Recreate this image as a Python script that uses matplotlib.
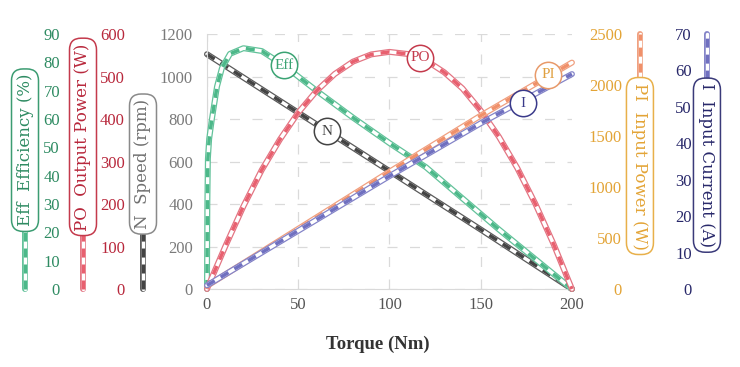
import numpy as np
import matplotlib
matplotlib.use("Agg")
import matplotlib.pyplot as plt
from matplotlib.transforms import blended_transform_factory

plt.rcParams['font.family'] = ['Liberation Serif', 'DejaVu Serif']

# data
torque_eff = [0, 0.2, 0.5, 1.2, 2.7, 5.5, 8.2, 12.6, 20, 30, 42, 60, 80, 100, 120, 140, 160, 180, 200]
efficiency = [0, 30, 46, 53, 60, 71.5, 78, 83, 85, 84, 79, 70, 60.5, 51.5, 43, 32, 21, 10.5, 0]

torque_po = [0, 10, 20, 30, 40, 50, 60, 70, 80, 90, 100, 110, 120, 130, 140, 150, 160, 170, 180, 190, 200]
output_power = [0, 100, 195, 280, 352, 415, 466, 506, 535, 552, 558, 553, 538, 510, 472, 420, 358, 285, 200, 105, 0]

torque_n = [0, 50, 100, 150, 200]
speed = [1105, 830, 555, 280, 0]

torque_pi = [0, 50, 100, 150, 200]
input_power = [30, 590, 1150, 1700, 2220]

torque_i = [0, 50, 100, 150, 200]
input_current = [1, 16, 31, 45.5, 59]

x_ticks = [0, 50, 100, 150, 200]
eff_ticks = [0, 10, 20, 30, 40, 50, 60, 70, 80, 90]
po_ticks = [0, 100, 200, 300, 400, 500, 600]
n_ticks = [0, 200, 400, 600, 800, 1000, 1200]
pi_ticks = [0, 500, 1000, 1500, 2000, 2500]
i_ticks = [0, 10, 20, 30, 40, 50, 60, 70]


def tube(axis, x, y, edge, dash, lw=4.3, transform=None):
    kw = dict(clip_on=False)
    if transform is not None:
        kw['transform'] = transform
    axis.plot(x, y, color=edge, lw=lw, solid_capstyle='round', solid_joinstyle='round', zorder=2, **kw)
    axis.plot(x, y, color='white', lw=lw - 1.8, solid_capstyle='round', solid_joinstyle='round', zorder=2, **kw)
    axis.plot(x, y, color=dash, lw=lw - 1.8, dashes=(2.6, 2.0), dash_capstyle='butt', zorder=2, **kw)


def side_axis(lim, ticks, color, spine_x):
    # extra value axis sharing the torque axis; tick labels right-aligned at spine_x
    t = ax.twinx()
    t.set_ylim(*lim)
    t.set_yticks([])
    for s in t.spines.values():
        s.set_visible(False)
    tr = blended_transform_factory(t.transAxes, t.transData)
    for v in ticks:
        t.text(spine_x, v, str(v), transform=tr, ha='right', va='center_baseline',
               fontsize=12, color=color, clip_on=False)
    return t


fig = plt.figure(figsize=(7.4, 3.67), dpi=100)
ax = fig.add_axes([0.2797, 0.2125, 0.4932, 0.6948])
ax.set_xlim(0, 200)
ax.set_ylim(0, 1200)
ax.set_xticks(x_ticks)
ax.set_yticks(n_ticks)
ax.grid(True, color='#dadada', lw=0.9, linestyle=(0, (8, 10)))
ax.xaxis.get_gridlines()[-1].set_visible(False)
for side in ['top', 'right']:
    ax.spines[side].set_visible(False)
for side in ['left', 'bottom']:
    ax.spines[side].set_color('#d9d9d9')
ax.tick_params(axis='y', length=0, pad=10, labelsize=12, labelcolor='#7a7a7a')
ax.tick_params(axis='x', length=0, pad=6, labelsize=12, labelcolor='#555555')
ax.set_xlabel('Torque (Nm)', fontsize=13.5, fontweight='bold', color='#333333')
ax.xaxis.set_label_coords(0.467, -0.185)

# speed on the main axis
tube(ax, torque_n, speed, '#5a5a5a', '#444444')

ax_eff = side_axis((0, 90), eff_ticks, '#2e8b62', -0.4027)
ax_po = side_axis((0, 600), po_ticks, '#b8283c', -0.2247)
ax_pi = side_axis((0, 2500), pi_ticks, '#e3a436', 1.137)
ax_i = side_axis((0, 70), i_ticks, '#28286a', 1.3288)

tube(ax_pi, torque_pi, input_power, '#f0a080', '#f0906a')
tube(ax_i, torque_i, input_current, '#8484c8', '#7070c0')
tube(ax_po, torque_po, output_power, '#e37583', '#e8606f')
tube(ax_eff, torque_eff, efficiency, '#62c29a', '#4cb889')

# axis "spine" tubes and boxed titles
axis_info = [
    (ax_eff, -0.4986, (0, 40), 49, 'Eff  Efficiency (%)', '#3c9c72', '#2e8b62', '#62c29a', '#4cb889', 90),
    (ax_po, -0.3397, (0, 300), 358, 'PO  Output Power (W)', '#c43a4c', '#b8283c', '#e37583', '#e8606f', 90),
    (ax, -0.1753, (0, 500), 588, 'N  Speed (rpm)', '#8a8a8a', '#707070', '#5a5a5a', '#444444', 90),
    (ax_pi, 1.1863, (1500, 2500), 1206, 'PI  Input Power (W)', '#e8b04a', '#e3a436', '#f0a080', '#f0906a', -90),
    (ax_i, 1.3699, (40, 70), 34, 'I  Input Current (A)', '#3a3a7a', '#28286a', '#8484c8', '#7070c0', -90),
]
for a, xf, span, yc, title, box_ec, txt_c, edge, dash, rot in axis_info:
    tr = blended_transform_factory(a.transAxes, a.transData)
    tube(a, [xf, xf], list(span), edge, dash, transform=tr)
    a.text(xf, yc, title, transform=tr, rotation=rot, ha='center', va='center',
           fontsize=12, color=txt_c, zorder=6, clip_on=False, family=['DejaVu Serif'],
           bbox=dict(boxstyle='round,pad=0.3,rounding_size=0.7', fc='white', ec=box_ec, lw=1.1))

# circled curve labels, drawn on top
overlay = ax.twinx()
overlay.axis('off')
overlay.set_ylim(0, 1)
labels = [
    (ax_eff, 42, 79, 'Eff', '#3aa373', '#3aa373'),
    (ax_po, 117, 544, 'PO', '#c43a4c', '#c43a4c'),
    (ax, 66, 742, 'N', '#444444', '#444444'),
    (ax_pi, 187, 2100, 'PI', '#e89a6a', '#e0a040'),
    (ax_i, 173, 51, 'I', '#3a3a8a', '#3a3a8a'),
]
for a, lx, ly, name, ec, tc in labels:
    overlay.plot([lx], [ly], marker='o', ms=19, mfc='white', mec=ec, mew=1.1,
                 transform=a.transData, zorder=8, clip_on=False)
    overlay.text(lx, ly, name, transform=a.transData, ha='center', va='center',
                 fontsize=11, color=tc, zorder=9)

fig.savefig('out.png', dpi=100)
